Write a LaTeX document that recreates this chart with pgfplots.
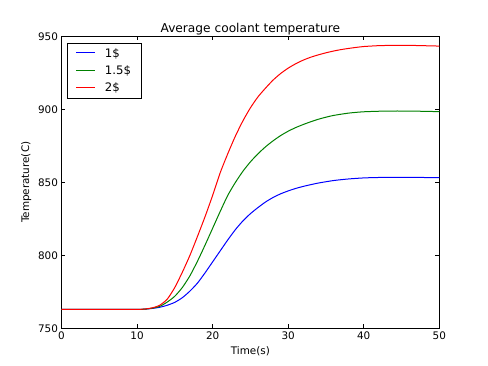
\documentclass[border=0pt]{standalone}
\usepackage{pgfplots}
\pgfplotsset{compat=1.18}
\usepackage{fontspec}
\setmainfont{DejaVu Sans}
\definecolor{mplgreen}{rgb}{0,0.5,0}
\begin{document}
\begin{tikzpicture}
\begin{axis}[
  name=ax,
  scale only axis,
  width=377.8pt, height=292pt,
  xmin=0, xmax=50, ymin=750, ymax=950,
  xtick={0,10,20,30,40,50}, ytick={750,800,850,900,950},
  tick align=inside, xtick pos=both, ytick pos=both,
  major tick length=4pt,
  tick style={black, line width=0.5pt},
  axis line style={line width=0.9pt},
  title={Average coolant temperature},
  title style={at={(0.5,1)}, anchor=base, yshift=-2pt, font=\fontsize{12.2}{14}\selectfont, inner sep=0pt},
  xlabel={Time(s)}, ylabel={Temperature(C)},
  label style={font=\fontsize{10.4}{12}\selectfont},
  ticklabel style={font=\fontsize{10.4}{12}\selectfont},
  /pgf/number format/assume math mode=true,
  /pgf/number format/1000 sep={},
  legend cell align=left,
  legend style={at={(0,1)}, anchor=north west, xshift=5.8pt, yshift=-6.4pt,
    draw=black, line width=0.9pt, font=\fontsize{11.7}{14}\selectfont,
    inner xsep=8pt, inner ysep=3pt, row sep=3pt},
  legend image code/.code={\draw[#1, line width=1.1pt] (0pt,0.4pt) -- (18.4pt,0.4pt);},
]
\addplot[blue, line width=1pt, smooth, tension=0.4] coordinates {
(0,763) (5,763) (10,763) (11,763.1) (12,763.6) (13,764.4) (14,765.8) (15,767.8) (16,771) (17,775.5) (18,781) (19,788) (20,795.5) (21,803) (22,810.5) (23,817.5) (24,823.5) (25,828.5) (26,832.7) (27,836.5) (28,839.6) (29,842.1) (30,844.1) (31,845.8) (32,847.2) (33,848.4) (34,849.5) (36,851.2) (38,852.3) (40,853) (42,853.3) (45,853.4) (50,853.2)};
\addlegendentry{\hspace{7.7pt}1\$\hspace{-11pt}}
\addplot[mplgreen, line width=1pt, smooth, tension=0.4] coordinates {
(0,763) (5,763) (10,763) (11,763.1) (12,763.8) (13,765) (14,768) (15,772) (16,778) (17,786) (18,796) (19,807) (20,818.5) (21,830) (22,841) (23,849.8) (24,857.5) (25,864) (26,869.5) (27,874.3) (28,878.4) (29,882) (30,885) (31,887.5) (32,889.6) (33,891.5) (34,893.2) (35,894.6) (36,895.8) (38,897.4) (40,898.3) (43,898.8) (46,898.8) (50,898.4)};
\addlegendentry{\hspace{7.7pt}1.5\$\hspace{-11pt}}
\addplot[red, line width=1pt, smooth, tension=0.4] coordinates {
(0,763) (5,763) (10,763) (11,763.2) (12,764) (13,765.8) (14,770) (15,778) (16,788.5) (17,800) (18,813) (19,826.5) (20,841) (21,856.5) (22,869.5) (23,881.5) (24,892) (25,901) (26,908.5) (27,914.5) (28,920) (29,924.5) (30,928.2) (31,931.2) (32,933.7) (33,935.7) (34,937.3) (35,938.7) (36,939.9) (37,940.9) (38,941.7) (39,942.4) (40,943) (42,943.6) (44,943.8) (46,943.8) (50,943.3)};
\addlegendentry{\hspace{7.7pt}2\$\hspace{-11pt}}
\end{axis}
\pgfresetboundingbox
\path[use as bounding box] (ax.south west) ++(-61.5pt,-36.7pt) rectangle ++(488pt,365pt);
\end{tikzpicture}
\end{document}
